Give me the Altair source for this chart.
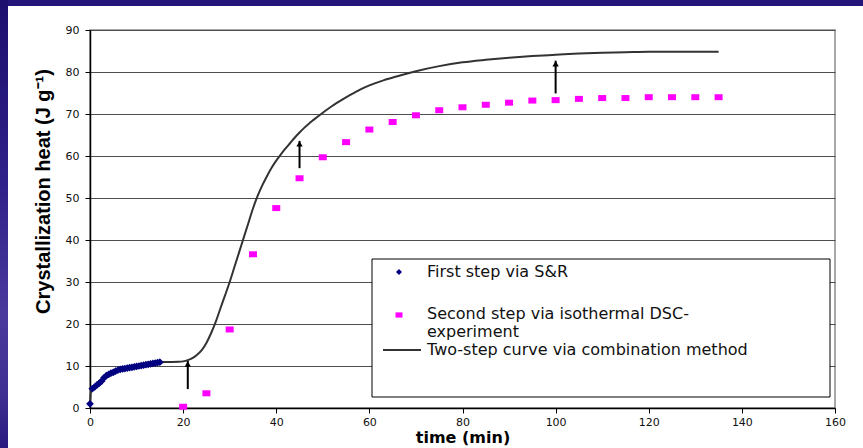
import altair as alt
import pandas as pd

# ---------------- data ----------------
SERIES = ["First step via S&R",
          "Second step via isothermal DSC-experiment",
          "Two-step curve via combination method"]

s1_t = [0, 0.5, 1, 1.5, 2, 2.5, 3, 3.5, 4, 4.5, 5, 5.5, 6, 6.5, 7, 7.5, 8,
        8.5, 9, 9.5, 10, 10.5, 11, 11.5, 12, 12.5, 13, 13.5, 14, 14.5, 15]
s1_v = [1.0, 4.6, 5.0, 5.5, 5.9, 6.4, 7.2, 7.7, 8.0, 8.3, 8.5, 8.8, 9.0, 9.2,
        9.3, 9.4, 9.5, 9.6, 9.7, 9.8, 9.9, 10.0, 10.1, 10.2, 10.3, 10.4, 10.5,
        10.6, 10.7, 10.8, 10.9]

s2_t = [20, 25, 30, 35, 40, 45, 50, 55, 60, 65, 70, 75, 80, 85, 90, 95, 100,
        105, 110, 115, 120, 125, 130, 135]
s2_v = [0.3, 3.5, 18.7, 36.6, 47.6, 54.7, 59.7, 63.3, 66.3, 68.1, 69.7, 70.9,
        71.6, 72.2, 72.7, 73.2, 73.3, 73.6, 73.8, 73.8, 74.0, 74.0, 74.0, 74.0]

c_t = [0, 0.3, 1, 2, 3, 4, 5, 6, 7, 8, 9, 10, 11, 12, 13, 14, 15, 17, 19, 20,
       21, 22, 23, 24, 25, 26, 27, 28, 29, 30, 31, 32, 33, 34, 35, 36, 37, 38,
       39, 40, 41, 42, 43, 44, 45, 46, 47, 48, 50, 52, 54, 56, 58, 60, 63, 66,
       70, 75, 80, 85, 90, 95, 100, 105, 110, 115, 120, 125, 130, 135]
c_v = [1.0, 4.5, 5.0, 5.9, 7.2, 8.0, 8.5, 9.0, 9.3, 9.5, 9.7, 9.9, 10.1, 10.3,
       10.5, 10.7, 10.9, 10.95, 11.0, 11.1, 11.4, 11.9, 12.7, 13.8, 15.5, 17.8,
       20.5, 23.7, 26.8, 30.0, 33.5, 37.0, 40.5, 44.0, 47.5, 50.5, 53.0, 55.2,
       57.2, 58.9, 60.4, 61.8, 63.1, 64.4, 65.6, 66.7, 67.7, 68.6, 70.3, 71.9,
       73.3, 74.6, 75.8, 76.8, 78.0, 79.0, 80.2, 81.4, 82.3, 82.9, 83.4, 83.8,
       84.1, 84.4, 84.6, 84.7, 84.8, 84.8, 84.8, 84.8]

arrow_t = [21, 45, 100]
arrow_y0 = [4.5, 57.1, 74.9]
arrow_y1 = [11.2, 63.6, 82.7]

x_ticks = [0, 20, 40, 60, 80, 100, 120, 140, 160]
y_ticks = [0, 10, 20, 30, 40, 50, 60, 70, 80, 90]

# ---------------- tables ----------------
df1 = pd.DataFrame({"t": s1_t, "v": s1_v, "series": SERIES[0]})
df2 = pd.DataFrame({"t": s2_t, "v": s2_v, "series": SERIES[1]})
dfc = pd.DataFrame({"t": c_t, "v": c_v, "series": SERIES[2]})
dfa = pd.DataFrame({"t": arrow_t, "y0": arrow_y0, "y1": arrow_y1})
one = pd.DataFrame({"k": [0]})

W, H = 745, 378
FONT = "DejaVu Sans"

xs = alt.Scale(domain=[0, 160], nice=False, zero=False)
ys = alt.Scale(domain=[0, 90], nice=False, zero=False)

xaxis = alt.Axis(values=x_ticks, grid=False, title="time (min)",
                 titleFont=FONT, titleFontSize=16, titleFontWeight="bold",
                 titleColor="black", titleY=34, titleBaseline="alphabetic",
                 labelFont=FONT, labelFontSize=11, labelColor="#111111",
                 labelPadding=3, tickSize=5, tickColor="black",
                 domainColor="black", domainWidth=1.5, labelFlush=False)
yaxis = alt.Axis(values=y_ticks, grid=True, gridColor="#4d4d4d", gridWidth=1,
                 title="Crystallization heat (J g\u207b\u00b9)",
                 titleFont="Liberation Sans", titleFontSize=20,
                 titleFontWeight="bold", titleColor="black",
                 titleX=-47, titleY=161, titleBaseline="middle",
                 titleAngle=270, titleAlign="center",
                 labelFont=FONT, labelFontSize=11, labelColor="#111111",
                 labelPadding=6, tickSize=5, tickColor="black",
                 domainColor="black", domainWidth=1.5, labelFlush=False)

curve = alt.Chart(dfc).mark_line(color="#333333", strokeWidth=2,
                                 interpolate="monotone").encode(
    x=alt.X("t:Q", scale=xs, axis=xaxis),
    y=alt.Y("v:Q", scale=ys, axis=yaxis),
)

pts1 = alt.Chart(df1).mark_point(shape="diamond", filled=True, size=60,
                                 color="#000080", opacity=1).encode(
    x=alt.X("t:Q", scale=xs), y=alt.Y("v:Q", scale=ys))

rect_shape = "M-1,-0.75H1V0.75H-1Z"
pts2 = alt.Chart(df2).mark_point(shape=rect_shape, filled=True, size=64,
                                 color="#ff00ff", opacity=1).encode(
    x=alt.X("t:Q", scale=xs), y=alt.Y("v:Q", scale=ys))

arrows = alt.Chart(dfa).mark_rule(color="black", strokeWidth=2).encode(
    x=alt.X("t:Q", scale=xs), y=alt.Y("y0:Q", scale=ys), y2="y1:Q")
heads = alt.Chart(dfa).mark_point(shape="triangle-up", filled=True, size=40,
                                  color="black", opacity=1, yOffset=3).encode(
    x=alt.X("t:Q", scale=xs), y=alt.Y("y1:Q", scale=ys))

# ---------------- legend (decoration) ----------------
leg_box = alt.Chart(one).mark_rect(fill="white", stroke="black",
                                   strokeWidth=1).encode(
    x=alt.value(282), x2=alt.value(740), y=alt.value(229), y2=alt.value(367))
leg_sym1 = alt.Chart(one).mark_point(shape="diamond", filled=True, size=36,
                                     color="#000080", opacity=1).encode(
    x=alt.value(309), y=alt.value(242))
leg_sym2 = alt.Chart(one).mark_point(shape=rect_shape, filled=True, size=49,
                                     color="#ff00ff", opacity=1).encode(
    x=alt.value(309), y=alt.value(285))
leg_sym3 = alt.Chart(one).mark_rule(color="#333333", strokeWidth=2).encode(
    x=alt.value(293), x2=alt.value(331), y=alt.value(320))

second_parts = ["Second step via isothermal DSC-", "experiment"]


def leg_text(txt, y):
    return alt.Chart(one).mark_text(text=txt, font=FONT, fontSize=16,
                                    align="left", baseline="middle",
                                    color="#111111").encode(
        x=alt.value(337), y=alt.value(y))


leg_t1 = leg_text(SERIES[0], 242)
leg_t2 = leg_text(second_parts[0], 284)
leg_t3 = leg_text(second_parts[1], 302)
leg_t4 = leg_text(SERIES[2], 320)

# ---------------- slide frame (decoration) ----------------
top_strip = alt.Chart(one).mark_rect(color="#23157a").encode(
    x=alt.value(-90), x2=alt.value(773), y=alt.value(-30), y2=alt.value(-24))
left_strip = alt.Chart(one).mark_rect(
    color=alt.LinearGradient(
        gradient="linear", x1=0, x2=0, y1=0, y2=1,
        stops=[alt.GradientStop(offset=0, color="#1c0f6e"),
               alt.GradientStop(offset=0.4, color="#2e2088"),
               alt.GradientStop(offset=0.7, color="#4a3a9e"),
               alt.GradientStop(offset=0.88, color="#3f2f92"),
               alt.GradientStop(offset=1, color="#2a1a80")])).encode(
    x=alt.value(-90), x2=alt.value(-82), y=alt.value(-30), y2=alt.value(418))

chart = alt.layer(
    top_strip, left_strip, curve, pts1, pts2, arrows, heads,
    leg_box, leg_sym1, leg_sym2, leg_sym3, leg_t1, leg_t2, leg_t3, leg_t4,
).properties(
    width=W, height=H,
    autosize=alt.AutoSizeParams(type="none"),
    padding={"left": 90, "top": 30, "right": 28, "bottom": 40},
    background="white",
).configure_view(stroke="#8c8c8c", strokeWidth=1.5)

chart.save("out.html", embed_options={"renderer": "svg", "actions": False})
